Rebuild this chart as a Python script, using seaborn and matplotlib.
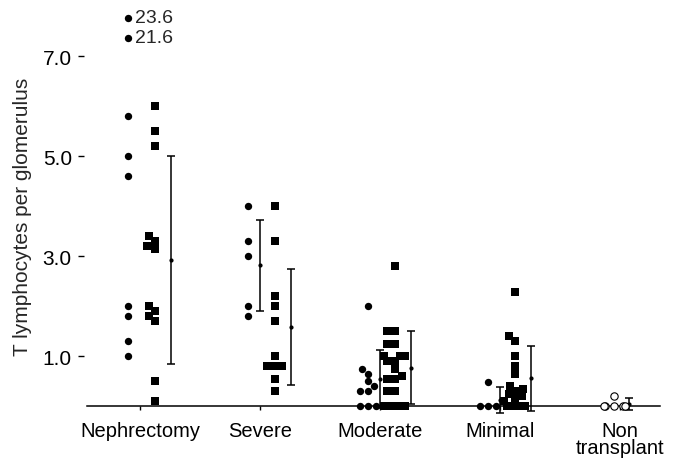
import warnings
import pandas as pd
import matplotlib
matplotlib.use('Agg')
import matplotlib.pyplot as plt
import seaborn as sns

warnings.filterwarnings('ignore')

grades = ['Nephrectomy', 'Severe', 'Moderate', 'Minimal', 'Non\ntransplant']

# filled circles (left column of each group)
neph_circles = [5.8, 5.0, 4.6, 2.0, 1.8, 1.3, 1.0]
neph_outliers = [23.6, 21.6]
severe_circles = [4.0, 3.3, 3.0, 2.0, 1.8]
moderate_circles = [2.0, 0.75, 0.65, 0.5, 0.4, 0.3, 0.3, 0, 0, 0]
minimal_circles = [0.48, 0, 0, 0]

# filled squares (right column of each group)
neph_squares = [6.0, 5.5, 5.2, 3.4, 3.3, 3.2, 3.15, 2.0, 1.9, 1.8, 1.7, 0.5, 0.1]
severe_squares = [4.0, 3.3, 2.2, 2.0, 1.7, 1.0, 0.8, 0.8, 0.8, 0.55, 0.3]
moderate_squares = [2.8, 1.5, 1.5, 1.25, 1.25, 1.0, 1.0, 1.0, 0.9, 0.9, 0.75,
                    0.6, 0.55, 0.55, 0.3, 0.3, 0, 0, 0, 0, 0, 0]
minimal_squares = [2.28, 1.4, 1.3, 1.0, 0.8, 0.65, 0.4, 0.35, 0.3, 0.25, 0.2,
                   0.15, 0.1, 0, 0, 0, 0]

# open circles, non transplant kidneys
nontransplant = [0, 0, 0, 0, 0, 0.2]

# mean +/- SD bars as drawn in the figure
bar_grade = ['Nephrectomy', 'Severe', 'Severe', 'Moderate', 'Moderate',
             'Minimal', 'Minimal', 'Non\ntransplant']
bar_kind = ['square', 'circle', 'square', 'circle', 'square', 'circle', 'square', 'open']
bar_mean = [2.92, 2.82, 1.58, 0.54, 0.77, 0.13, 0.56, 0.05]
bar_sd = [2.08, 0.91, 1.16, 0.58, 0.73, 0.26, 0.65, 0.12]


def shown(v):
    # values above the top of the scale are squeezed in above 7
    return v if v <= 7 else 7.37 + (v - 21.6) * 0.2


groups = [
    (grades[0], 'circle', neph_circles + neph_outliers),
    (grades[1], 'circle', severe_circles),
    (grades[2], 'circle', moderate_circles),
    (grades[3], 'circle', minimal_circles),
    (grades[0], 'square', neph_squares),
    (grades[1], 'square', severe_squares),
    (grades[2], 'square', moderate_squares),
    (grades[3], 'square', minimal_squares),
    (grades[4], 'open', nontransplant),
]
rows = [(g, k, shown(v)) for g, k, vals in groups for v in vals]
df = pd.DataFrame(rows, columns=['grade', 'kind', 'value'])

col_offset = {'circle': -0.1, 'square': 0.12, 'open': -0.05}
bar_offset = {'circle': 0.0, 'square': 0.26, 'open': 0.07}
df['x'] = df['grade'].map(grades.index) + df['kind'].map(col_offset)

sns.set_style('white')
plt.rcParams['font.family'] = ['Liberation Sans', 'DejaVu Sans']

fig = plt.figure(figsize=(6.75, 4.6), dpi=100)
ax = fig.add_axes([0.129, 0.0826, 0.849, 0.891])

styles = [('circle', 'o', 'black'), ('square', 's', 'black'), ('open', 'o', 'white')]
for kind, marker, face in styles:
    # keep every x position so each swarm gets the same narrow width
    sub = df.assign(value=df['value'].where(df['kind'] == kind))
    sns.swarmplot(data=sub, x='x', y='value', native_scale=True, orient='x',
                  marker=marker, size=5.3, color='black', facecolor=face,
                  edgecolor='black', linewidth=0.8 if kind == 'open' else 0, ax=ax)

bars = pd.DataFrame({'grade': bar_grade, 'kind': bar_kind, 'mean': bar_mean, 'sd': bar_sd})
bx = bars['grade'].map(grades.index) + bars['kind'].map(bar_offset)
ax.errorbar(bx, bars['mean'], yerr=bars['sd'], fmt='o', ms=2, color='black',
            elinewidth=1.1, capsize=3, capthick=1.1)

for v in neph_outliers:
    ax.text(col_offset['circle'] + 0.06, shown(v), f'{v:.1f}', va='center',
            ha='left', fontsize=14)

# spines first: moving a spine resets the ticks
sns.despine(ax=ax, top=True, right=True)
ax.spines['left'].set_visible(False)
ax.spines['left'].set_position(('outward', 2))
ax.spines['bottom'].set_position(('data', 0))
ax.spines['bottom'].set_linewidth(1.1)
ax.spines['bottom'].set_color('black')

ax.set_xlim(-0.442, 4.333)
ax.set_ylim(-0.3, 7.9)
ax.set_xticks(range(len(grades)))
ax.set_xticklabels(grades)
for lab in ax.get_xticklabels():
    lab.set_linespacing(0.88)
ax.set_yticks([1, 3, 5, 7])
ax.set_yticklabels(['1.0', '3.0', '5.0', '7.0'])
ax.set_xlabel('')
ax.set_ylabel('T lymphocytes per glomerulus', fontsize=15, labelpad=8)

ax.tick_params(axis='y', left=True, length=4, width=1, pad=5, color='black',
               labelsize=15, labelcolor='black')
ax.tick_params(axis='x', bottom=True, length=3, width=1, pad=8, color='black',
               labelsize=14.5, labelcolor='black')

fig.savefig('out.png', dpi=100)
